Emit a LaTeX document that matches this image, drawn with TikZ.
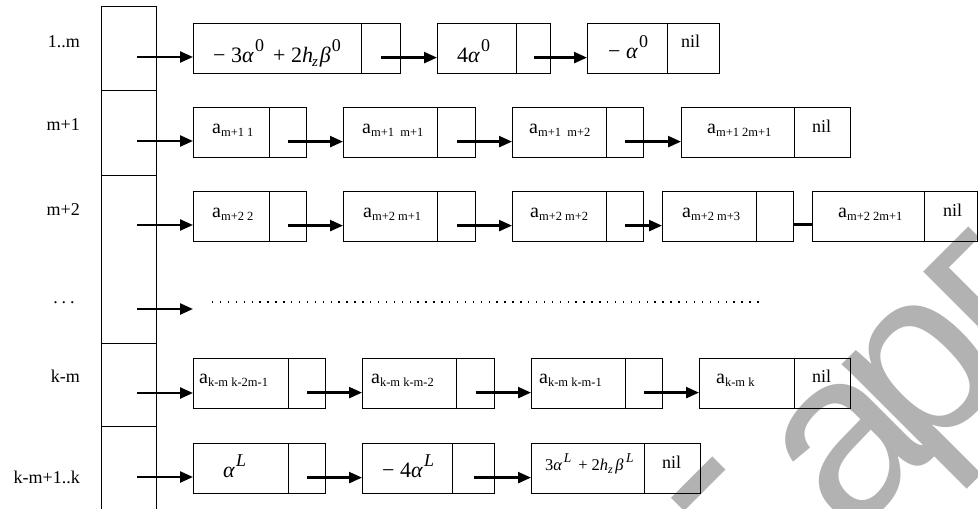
\documentclass[tikz,border=0pt]{standalone}
\usepackage{fontspec}
\setmainfont{Liberation Serif}
\newfontfamily\wmfont{Liberation Sans}
\usetikzlibrary{calc,arrows.meta}
\newcommand{\ent}[1]{{\fontsize{20}{20}\selectfont a}\raisebox{-3pt}{\fontsize{12.5}{12.5}\selectfont #1}}
\newcommand{\supr}[3]{\raisebox{#1}{\fontsize{#2}{#2}\selectfont #3}}
\newcommand{\lcell}[5]{%
  \node[cellbox, minimum width={(#3-#2)*1pt}, anchor=north west] (#1d) at (#2,#5) {};
  \node[cellbox, minimum width={(#4-#3)*1pt}, anchor=north west] (#1p) at (#3,#5) {};
}
\newcommand{\lnk}[2]{%
  \coordinate (#1s) at ($(#1p.center)+(0,9)$);
  \draw[link] (#1s) -- (#1s -| #2d.west);
}
\tikzset{
  cellbox/.style={draw, line width=1.2pt, inner sep=0pt, minimum height=50pt},
  colbox/.style={draw, line width=1.2pt, inner sep=0pt, minimum width=55pt, anchor=north west},
  link/.style={line width=2.4pt, -{Triangle[length=13pt,width=11pt]}},
  plainlink/.style={line width=2.4pt},
  txt/.style={inner sep=0pt, anchor=base west},
  lbl/.style={inner sep=0pt, anchor=base east, font=\fontsize{18}{18}\selectfont},
  niltxt/.style={inner sep=0pt, anchor=base west, font=\fontsize{18}{18}\selectfont},
  wmark/.style={rotate=45, text=black!30, inner sep=0pt, font=\wmfont\fontsize{240}{240}\selectfont},
}
\begin{document}
\begin{tikzpicture}[x=1pt,y=-1pt]
\useasboundingbox (0,0) rectangle (978,509);
% watermark
\begin{scope}
\clip (0,0) rectangle (978,509);
\node[wmark] (wm1) at (718,503) {-};
\node[wmark] (wm2) at (852,448) {а};
\node[wmark] (wm3) at (940,390) {р};
\node[wmark] (wm4) at (988,298) {г};
\end{scope}
% left column
\node[colbox, minimum height=84pt] (c1) at (101,6) {};
\node[colbox, minimum height=85pt] (c2) at (101,90) {};
\node[colbox, minimum height=168pt] (c3) at (101,175) {};
\node[colbox, minimum height=83pt] (c4) at (101,343) {};
\node[colbox, minimum height=90pt] (c5) at (101,426) {};
% labels
\node[lbl] (l1) at (80,47) {1..m};
\node[lbl] (l2) at (80,130) {m+1};
\node[lbl] (l3) at (80,215) {m+2};
\node[inner sep=0pt, anchor=base, font=\fontsize{18}{18}\selectfont] (l4) at (64,303) {.\hspace{4pt}.\hspace{4pt}.};
\node[lbl] (l5) at (80,382) {k-m};
\node[lbl] (l6) at (80,483) {k-m+1..k};
% row 1
\lcell{r1a}{193}{361}{400}{23}
\lcell{r1b}{437}{516}{550}{23}
\lcell{r1c}{587}{667}{719}{23}
\node[txt, font=\fontsize{22}{22}\selectfont] (t1a) at (213,62) {− 3\textit{α}\kern1pt\supr{11pt}{18}{0}\, + 2\textit{h}\kern-1pt\supr{-4pt}{15}{\textit{z}}\kern2pt\textit{β}\kern1pt\supr{11pt}{18}{0}};
\node[txt, font=\fontsize{22}{22}\selectfont] (t1b) at (457,62) {4\textit{α}\kern1pt\supr{11pt}{18}{0}};
\node[txt, font=\fontsize{22}{22}\selectfont] (t1c) at (608,58) {− \textit{α}\kern1pt\supr{11pt}{18}{0}};
\node[niltxt] (n1) at (681,47) {nil};
% row 2
\lcell{r2a}{193}{269}{306}{107}
\lcell{r2b}{343}{437}{475}{107}
\lcell{r2c}{512}{606}{643}{107}
\lcell{r2d}{681}{794}{850}{107}
\node[txt] (t2a) at (212,133) {\ent{m+1 1}};
\node[txt] (t2b) at (362,133) {\ent{m+1\ \ m+1}};
\node[txt] (t2c) at (529,133) {\ent{m+1\ \ m+2}};
\node[txt] (t2d) at (707,133) {\ent{m+1 2m+1}};
\node[niltxt] (n2) at (812,132) {nil};
% row 3
\lcell{r3a}{193}{269}{306}{191}
\lcell{r3b}{343}{437}{475}{191}
\lcell{r3c}{512}{606}{643}{191}
\lcell{r3d}{662}{756}{793}{191}
\lcell{r3e}{812}{924}{977}{191}
\node[txt] (t3a) at (212,217) {\ent{m+2 2}};
\node[txt] (t3b) at (363,217) {\ent{m+2 m+1}};
\node[txt] (t3c) at (530,217) {\ent{m+2 m+2}};
\node[txt] (t3d) at (682,217) {\ent{m+2 m+3}};
\node[txt] (t3e) at (838,217) {\ent{m+2 2m+1}};
\node[niltxt] (n3) at (943,216) {nil};
% row 5
\lcell{r5a}{193}{288}{325}{358}
\lcell{r5b}{362}{456}{494}{358}
\lcell{r5c}{531}{625}{662}{358}
\lcell{r5d}{699}{794}{850}{358}
\node[txt] (t5a) at (199,383) {\ent{k-m k-2m-1}};
\node[txt] (t5b) at (371,383) {\ent{k-m k-m-2}};
\node[txt] (t5c) at (539,383) {\ent{k-m k-m-1}};
\node[txt] (t5d) at (716,383) {\ent{k-m k}};
\node[niltxt] (n5) at (812,382) {nil};
% row 6
\lcell{r6a}{193}{288}{325}{443}
\lcell{r6b}{362}{452}{494}{443}
\lcell{r6c}{531}{644}{700}{443}
\node[txt, font=\fontsize{22}{22}\selectfont] (t6a) at (223,477) {\textit{α}\kern1pt\supr{11pt}{18}{\textit{L}}};
\node[txt, font=\fontsize{22}{22}\selectfont] (t6b) at (382,477) {− 4\textit{α}\kern1pt\supr{11pt}{18}{\textit{L}}};
\node[txt, font=\fontsize{16.5}{16.5}\selectfont] (t6c) at (545,470) {3\textit{α}\kern1.5pt\supr{8pt}{13.5}{\textit{L}}\, + 2\textit{h}\supr{-3pt}{12}{\textit{z}}\kern2.5pt\textit{β}\kern2.5pt\supr{8pt}{13.5}{\textit{L}}};
\node[niltxt] (n6) at (662,468) {nil};
% column arrows
\coordinate (s1) at (137,57);
\coordinate (s2) at (137,141);
\coordinate (s3) at (137,225);
\coordinate (s4) at (137,309);
\coordinate (e4) at (193,309);
\coordinate (s5) at (137,393);
\coordinate (s6) at (137,477);
\draw[link] (s1) -- (s1 -| r1ad.west);
\draw[link] (s2) -- (s2 -| r2ad.west);
\draw[link] (s3) -- (s3 -| r3ad.west);
\draw[link] (s4) -- (e4);
\draw[link] (s5) -- (s5 -| r5ad.west);
\draw[link] (s6) -- (s6 -| r6ad.west);
% list links
\lnk{r1a}{r1b}
\lnk{r1b}{r1c}
\lnk{r2a}{r2b}
\lnk{r2b}{r2c}
\lnk{r2c}{r2d}
\lnk{r3a}{r3b}
\lnk{r3b}{r3c}
\lnk{r3c}{r3d}
\coordinate (q3) at ($(r3dp.east)+(0,8)$);
\draw[plainlink] (q3) -- (q3 -| r3ed.west);
\lnk{r5a}{r5b}
\lnk{r5b}{r5c}
\lnk{r5c}{r5d}
\lnk{r6a}{r6b}
\lnk{r6b}{r6c}
% dotted line
\coordinate (d1) at (212,302);
\coordinate (d2) at (764,302);
\draw[line width=1.4pt, dash pattern=on 1.4pt off 6.5pt] (d1) -- (d2);
\end{tikzpicture}
\end{document}
